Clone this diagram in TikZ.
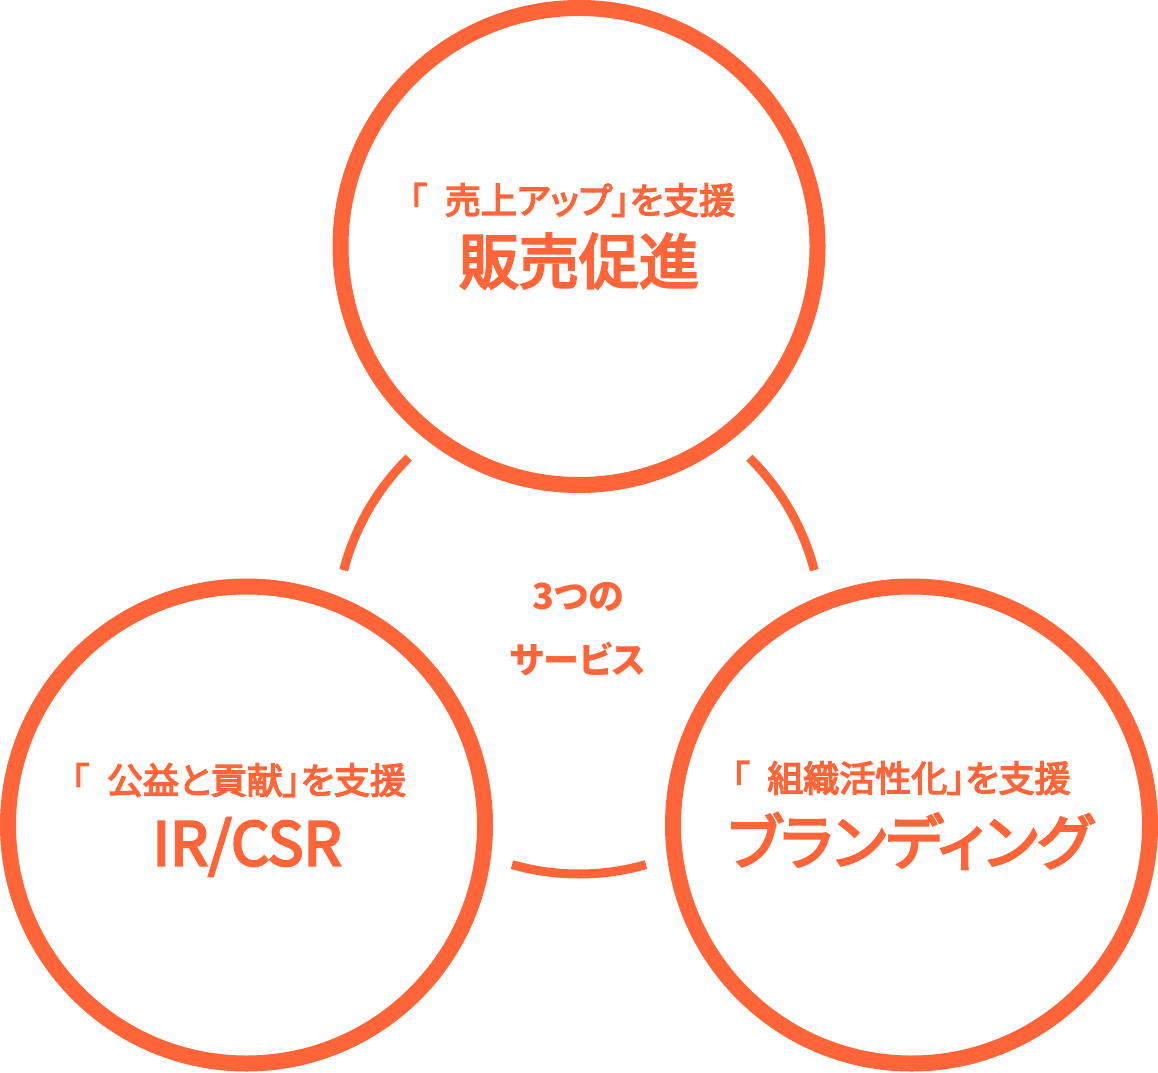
\documentclass[tikz,border=0pt]{standalone}
\usepackage{fontspec}
\newfontfamily\jp[RawFeature=+palt, FakeBold=4]{Noto Sans CJK JP}
\newfontfamily\jpc[RawFeature=+palt]{Noto Sans CJK JP}
\definecolor{org}{HTML}{FF6539}
\tikzset{
  ring/.style={draw=org, line width=16pt, circle, minimum size=477pt, inner sep=0pt},
  link/.style={draw=org, line width=9pt},
  sub/.style={text=org, inner sep=0pt, font=\jp\fontsize{36}{36}\selectfont},
  big/.style={text=org, inner sep=0pt, font=\jp\fontsize{60}{60}\selectfont},
  mid/.style={text=org, inner sep=0pt, font=\jpc\bfseries\fontsize{36}{36}\selectfont}
}
\begin{document}
\begin{tikzpicture}[x=1pt,y=1pt]
\useasboundingbox (0,0) rectangle (1158,1072);
% circles
\node[ring] (top) at (579,825.5) {};
\node[ring] (left) at (246.5,247) {};
\node[ring] (right) at (911.5,247) {};
% linking arcs
\coordinate (mid) at (579,441);
\draw[link] ([shift={(134.5:243pt)}]mid) arc[start angle=134.5, end angle=165.5, radius=243pt];
\draw[link] ([shift={(254:243pt)}]mid) arc[start angle=254, end angle=286, radius=243pt];
\draw[link] ([shift={(14.5:243pt)}]mid) arc[start angle=14.5, end angle=45.5, radius=243pt];
% texts
\node[sub] (t1) at (572,872) {「\hspace{0.5em}売上アップ」を支援};
\node[big] (t2) at (579,811) {販売促進};
\node[sub] (l1) at (238.5,292) {「\hspace{0.5em}公益と貢献」を支援};
\node[big] (l2) at (247,225) {IR/CSR};
\node[sub] (r1) at (901,294) {「\hspace{0.5em}組織活性化」を支援};
\node[big] (r2) at (910,231) {ブランディング};
\node[mid] (c1) at (578,475) {3つの};
\node[mid] (c2) at (578,413) {サービス};
\end{tikzpicture}
\end{document}
